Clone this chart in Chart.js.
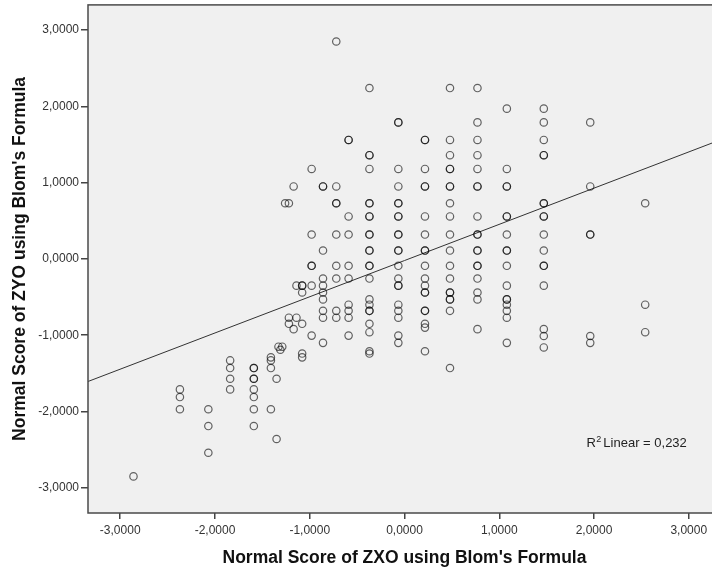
<!DOCTYPE html>
<html>
<head>
<meta charset="utf-8">
<script src="https://cdn.jsdelivr.net/npm/chart.js@4"></script>
<style>
  html, body { margin: 0; padding: 0; background: #fff; overflow: hidden; }
  #wrap { width: 730px; height: 574px; }
</style>
</head>
<body>
<div id="wrap"><canvas id="blomChart" width="730" height="574"></canvas></div>
<script>
// Normal scores (Blom) of ZXO and ZYO, one entry per case, grouped by ZXO value
const zxo = [
  -2.86,
  -2.37, -2.37, -2.37,
  -2.07, -2.07, -2.07,
  -1.84, -1.84, -1.84, -1.84,
  -1.59, -1.59, -1.59, -1.59, -1.59, -1.59, -1.59, -1.59,
  -1.41, -1.41, -1.41, -1.41,
  -1.35, -1.35,
  -1.33, -1.29, -1.31,
  -1.26, -1.22, -1.22, -1.22,
  -1.17, -1.17,
  -1.14, -1.14,
  -1.08, -1.08, -1.08, -1.08, -1.08, -1.08,
  -0.98, -0.98, -0.98, -0.98, -0.98, -0.98,
  -0.86, -0.86, -0.86, -0.86, -0.86, -0.86, -0.86, -0.86, -0.86, -0.86,
  -0.72, -0.72, -0.72, -0.72, -0.72, -0.72, -0.72, -0.72, -0.72,
  -0.59, -0.59, -0.59, -0.59, -0.59, -0.59, -0.59, -0.59, -0.59, -0.59,
  -0.37, -0.37, -0.37, -0.37, -0.37, -0.37, -0.37, -0.37, -0.37, -0.37, -0.37, -0.37,
  -0.37, -0.37, -0.37, -0.37, -0.37, -0.37, -0.37, -0.37, -0.37, -0.37, -0.37,
  -0.065, -0.065, -0.065, -0.065, -0.065, -0.065, -0.065, -0.065, -0.065, -0.065, -0.065,
  -0.065, -0.065, -0.065, -0.065, -0.065, -0.065, -0.065, -0.065, -0.065, -0.065,
  0.216, 0.216, 0.216, 0.216, 0.216, 0.216, 0.216, 0.216, 0.216, 0.216, 0.216, 0.216,
  0.216, 0.216, 0.216, 0.216, 0.216, 0.216, 0.216,
  0.48, 0.48, 0.48, 0.48, 0.48, 0.48, 0.48, 0.48, 0.48, 0.48, 0.48, 0.48,
  0.48, 0.48, 0.48, 0.48, 0.48, 0.48, 0.48,
  0.77, 0.77, 0.77, 0.77, 0.77, 0.77, 0.77, 0.77, 0.77, 0.77, 0.77, 0.77,
  0.77, 0.77, 0.77, 0.77, 0.77, 0.77,
  1.08, 1.08, 1.08, 1.08, 1.08, 1.08, 1.08, 1.08, 1.08, 1.08, 1.08, 1.08,
  1.08, 1.08, 1.08, 1.08, 1.08,
  1.47, 1.47, 1.47, 1.47, 1.47, 1.47, 1.47, 1.47, 1.47, 1.47, 1.47, 1.47,
  1.47, 1.47, 1.47, 1.47, 1.47,
  1.96, 1.96, 1.96, 1.96, 1.96, 1.96,
  2.54, 2.54, 2.54
];
const zyo = [
  -2.85,
  -1.71, -1.81, -1.97,
  -1.97, -2.19, -2.54,
  -1.33, -1.43, -1.57, -1.71,
  -1.43, -1.43, -1.57, -1.57, -1.71, -1.81, -1.97, -2.19,
  -1.29, -1.33, -1.43, -1.97,
  -1.57, -2.36,
  -1.15, -1.15, -1.19,
  0.73, 0.73, -0.77, -0.85,
  0.95, -0.92,
  -0.35, -0.77,
  -0.35, -0.35, -0.44, -0.85, -1.24, -1.29,
  1.18, 0.32, -0.09, -0.09, -0.35, -1.005,
  0.95, 0.95, 0.11, -0.257, -0.35, -0.44, -0.53, -0.68, -0.77, -1.10,
  2.85, 0.95, 0.73, 0.73, 0.32, -0.09, -0.257, -0.68, -0.77,
  1.56, 1.56, 0.557, 0.32, -0.09, -0.257, -0.60, -0.68, -0.77, -1.005,
  2.24, 1.36, 1.36, 1.18, 0.73, 0.73, 0.557, 0.557, 0.32, 0.32, 0.11, 0.11,
  -0.09, -0.09, -0.257, -0.53, -0.60, -0.68, -0.68, -0.85, -0.96, -1.21, -1.24,
  1.79, 1.79, 1.18, 0.95, 0.73, 0.73, 0.557, 0.557, 0.32, 0.32, 0.11,
  0.11, -0.09, -0.257, -0.35, -0.35, -0.60, -0.68, -0.77, -1.005, -1.10,
  1.56, 1.56, 1.18, 0.95, 0.95, 0.557, 0.32, 0.11, 0.11, -0.09, -0.257, -0.35,
  -0.44, -0.44, -0.68, -0.68, -0.85, -0.90, -1.21, -1.43,
  2.24, 1.56, 1.36, 1.18, 1.18, 0.95, 0.95, 0.73, 0.557, 0.32, 0.11, -0.09,
  -0.257, -0.44, -0.44, -0.53, -0.53, -0.68, -0.92,
  2.24, 1.79, 1.56, 1.36, 1.18, 0.95, 0.95, 0.557, 0.32, 0.32, 0.11, 0.11,
  -0.09, -0.09, -0.257, -0.44, -0.53, -1.10,
  1.97, 1.18, 0.95, 0.95, 0.557, 0.557, 0.32, 0.11, 0.11, -0.09, -0.35, -0.53,
  -0.53, -0.60, -0.68, -0.77, -1.16,
  1.97, 1.79, 1.56, 1.36, 1.36, 0.73, 0.73, 0.557, 0.557, 0.32, 0.11, -0.09,
  -0.09, -0.35, -0.92, -1.01, -1.01, -1.10,
  1.79, 0.95, 0.32, 0.32, -0.60, -0.96,
  0.73, 0.73, -0.86
];

// axis ticks and ranges
const xTicks = [-3, -2, -1, 0, 1, 2, 3];
const yTicks = [-3, -2, -1, 0, 1, 2, 3];
const xRange = [-3.34, 3.34];
const yRange = [-3.33, 3.33];

// linear fit line
const fitIntercept = -0.021;
const fitSlope = 0.4746;
const rSquared = 0.232;
const rSquaredAt = { x: 1.92, y: -2.47 };

const fmt = v => v.toFixed(4).replace('.', ',');

const points = zxo.map((x, i) => ({ x: x, y: zyo[i] }));
const fitLine = xRange.map(x => ({ x: x, y: fitIntercept + fitSlope * x }));

const FONT = '"Liberation Sans", Arial, sans-serif';

const plotFrame = {
  id: 'plotFrame',
  beforeDatasetsDraw(chart) {
    const { ctx, chartArea: a } = chart;
    ctx.save();
    ctx.fillStyle = '#f0f0f0';
    ctx.fillRect(a.left, a.top, a.right - a.left, a.bottom - a.top);
    ctx.restore();
  },
  afterDatasetsDraw(chart) {
    const { ctx, chartArea: a } = chart;
    ctx.save();
    ctx.strokeStyle = '#4a4a4a';
    ctx.lineWidth = 1.5;
    ctx.strokeRect(a.left, a.top, a.right - a.left, a.bottom - a.top);
    ctx.restore();
  },
  afterDraw(chart) {
    // "R² Linear = ..." annotation
    const { ctx, scales } = chart;
    const x = scales.x.getPixelForValue(rSquaredAt.x);
    const y = scales.y.getPixelForValue(rSquaredAt.y);
    ctx.save();
    ctx.fillStyle = '#222';
    ctx.textBaseline = 'alphabetic';
    ctx.font = '13px ' + FONT;
    ctx.fillText('R', x, y);
    let cx = x + ctx.measureText('R').width;
    ctx.font = '9px ' + FONT;
    ctx.fillText('2', cx + 0.5, y - 5);
    cx += ctx.measureText('2').width + 2.5;
    ctx.font = '13px ' + FONT;
    ctx.fillText('Linear = ' + rSquared.toFixed(3).replace('.', ','), cx, y);
    ctx.restore();
  }
};

const tickFont = { family: FONT, size: 12 };
const titleFont = { family: FONT, size: 17.5, weight: 'bold' };

new Chart(document.getElementById('blomChart'), {
  type: 'scatter',
  data: {
    datasets: [
      {
        label: 'Cases',
        data: points,
        pointStyle: 'circle',
        pointRadius: 3.7,
        pointHoverRadius: 3.7,
        backgroundColor: 'rgba(0,0,0,0)',
        borderColor: 'rgba(0,0,0,0.6)',
        borderWidth: 1.2
      },
      {
        type: 'line',
        label: 'Linear',
        data: fitLine,
        borderColor: '#333',
        borderWidth: 1,
        pointRadius: 0,
        fill: false
      }
    ]
  },
  plugins: [plotFrame],
  options: {
    responsive: false,
    animation: false,
    events: [],
    layout: { padding: { top: 3, right: 9, left: 0, bottom: 0 } },
    plugins: {
      legend: { display: false },
      tooltip: { enabled: false }
    },
    scales: {
      x: {
        type: 'linear',
        min: xRange[0],
        max: xRange[1],
        afterBuildTicks: s => { s.ticks = xTicks.map(v => ({ value: v })); },
        afterFit: s => { s.height = 61; s.paddingLeft = 0; s.paddingRight = 0; },
        border: { display: false },
        grid: { drawOnChartArea: false, drawTicks: true, tickLength: 6, tickColor: '#444', lineWidth: 1.5 },
        ticks: { color: '#333', font: tickFont, padding: 4, maxRotation: 0, callback: v => fmt(v) },
        title: {
          display: true,
          text: "Normal Score of ZXO using Blom's Formula",
          color: '#111',
          font: titleFont,
          padding: { top: 0, bottom: 5.5 }
        }
      },
      y: {
        type: 'linear',
        min: yRange[0],
        max: yRange[1],
        afterBuildTicks: s => { s.ticks = yTicks.map(v => ({ value: v })); },
        afterFit: s => { s.width = 88; s.paddingTop = 0; s.paddingBottom = 0; },
        border: { display: false },
        grid: { drawOnChartArea: false, drawTicks: true, tickLength: 7, tickColor: '#444', lineWidth: 1.5 },
        ticks: { color: '#333', font: tickFont, padding: 2, callback: v => fmt(v) },
        title: {
          display: true,
          text: "Normal Score of ZYO using Blom's Formula",
          color: '#111',
          font: titleFont,
          padding: { top: 10, bottom: 0 }
        }
      }
    }
  }
});
</script>
</body>
</html>
